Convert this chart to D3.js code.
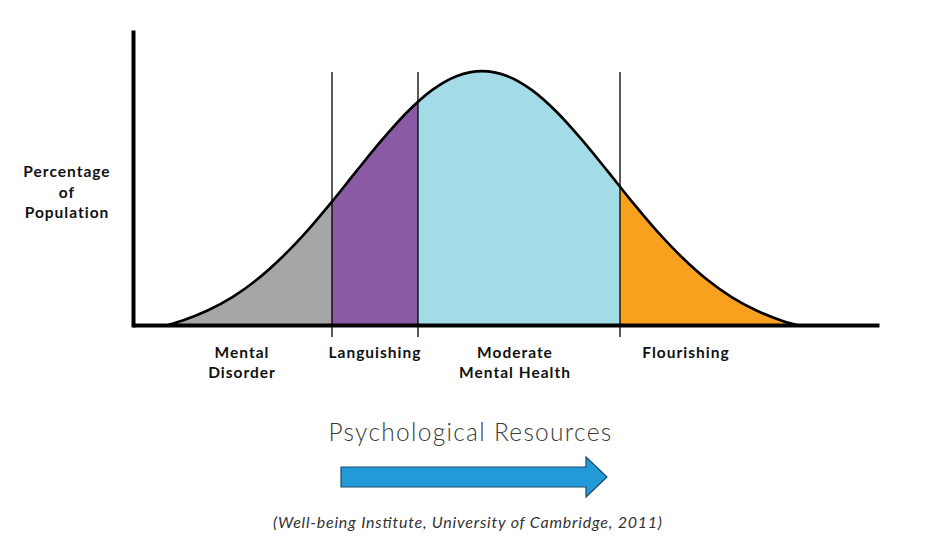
<!DOCTYPE html>
<html><head><meta charset="utf-8">
<script src="https://cdn.jsdelivr.net/npm/d3@7"></script>
<style>body{margin:0;background:#fff}</style>
</head><body>
<svg id="chart" width="952" height="549"></svg>
<script>
// Curve samples (x: resources, y: % of peak)
const curveX = [-6.28,-6,-5.5,-5,-4.5,-4,-3.5,-3,-2.5,-2,-1.5,-1,-0.5,0,0.5,1,1.5,2,2.5,3,3.5,4,4.5,5,5.5,6,6.3];
const curveY = [0,1.7,5.6,10.9,17.9,26.7,37.0,48.6,60.9,72.9,83.8,92.5,98.1,100,98.1,92.5,83.8,72.9,60.9,48.6,37.0,26.7,17.9,10.9,5.6,1.7,0];
const categories = ["Mental Disorder","Languishing","Moderate Mental Health","Flourishing"];
const boundaries = [-6.28,-3.0,-1.28,2.76,6.3];
const cutLines = [-3.0,-1.28,2.76];
const segColors = ["#a6a6a6","#8a5aa4","#a3dce6","#f7a11f"];
const labelLines = [["Mental","Disorder"],["Languishing"],["Moderate","Mental Health"],["Flourishing"]];
const labelCenters = [-4.8,-2.14,0.66,4.08];
const yTitle = ["Percentage","of","Population"];
const xTitle = "Psychological Resources";
const source = "(Well-being Institute, University of Cambridge, 2011)";

const svg = d3.select("#chart");
const x = d3.scaleLinear().domain([-6.98, 7.94]).range([133, 879]);
const y = d3.scaleLinear().domain([0, 115.4]).range([325, 32]);
const pts = curveX.map((v,i)=>({x:v,y:curveY[i]}));

const area = d3.area().x(d=>x(d.x)).y0(y(0)).y1(d=>y(d.y)).curve(d3.curveMonotoneX);
const line = d3.line().x(d=>x(d.x)).y(d=>y(d.y)).curve(d3.curveMonotoneX);

const defs = svg.append("defs");
categories.forEach((c,i)=>{
  defs.append("clipPath").attr("id","seg"+i).append("rect")
    .attr("x", x(boundaries[i])).attr("y", 0)
    .attr("width", x(boundaries[i+1]) - x(boundaries[i])).attr("height", 549);
});
categories.forEach((c,i)=>{
  svg.append("path").datum(pts).attr("d", area)
    .attr("fill", segColors[i]).attr("clip-path", `url(#seg${i})`);
});
svg.append("path").datum(pts).attr("d", line)
  .attr("fill","none").attr("stroke","#000").attr("stroke-width",2.6);

// cut lines
svg.selectAll("line.cut").data(cutLines).enter().append("line")
  .attr("class","cut")
  .attr("x1",d=>x(d)).attr("x2",d=>x(d))
  .attr("y1", y(99.6)).attr("y2", y(0)+12)
  .attr("stroke","#000").attr("stroke-width",1.3);

// axes
const gx = svg.append("g").attr("transform",`translate(0,${y(0)})`)
  .call(d3.axisBottom(x).tickValues([]).tickSizeOuter(0));
gx.select(".domain").attr("stroke","#000").attr("stroke-width",4);
const gy = svg.append("g").attr("transform",`translate(${x.range()[0]},0)`)
  .call(d3.axisLeft(y).tickValues([]).tickSizeOuter(0));
gy.select(".domain").attr("stroke","#000").attr("stroke-width",4).attr("stroke-linecap","square");

// category labels
labelLines.forEach((lines,i)=>{
  const t = svg.append("text").attr("text-anchor","middle")
    .attr("font-family","Lato, 'Open Sans', sans-serif").attr("font-weight","bold")
    .attr("font-size",15.5).attr("letter-spacing",1).attr("fill","#111");
  lines.forEach((l,j)=>{
    t.append("tspan").attr("x", x(labelCenters[i])).attr("y", 357.5 + j*20.5).text(l);
  });
});

// y title
const yt = svg.append("text").attr("text-anchor","middle")
  .attr("font-family","Lato, 'Open Sans', sans-serif").attr("font-weight","bold")
  .attr("font-size",15.5).attr("letter-spacing",1).attr("fill","#111");
yTitle.forEach((l,j)=>yt.append("tspan").attr("x",67).attr("y",177+j*20.7).text(l));

// x title
svg.append("text").attr("x",470.5).attr("y",441).attr("text-anchor","middle")
  .attr("font-family","Lato, 'Open Sans', sans-serif").attr("font-weight",300)
  .attr("font-size",24.5).attr("letter-spacing",1.3).attr("fill","#3a3a3a").text(xTitle);

// arrow
const p = d3.path();
p.moveTo(341,467); p.lineTo(586,467); p.lineTo(586,457); p.lineTo(607,477);
p.lineTo(586,497); p.lineTo(586,487); p.lineTo(341,487); p.closePath();
svg.append("path").attr("d",p.toString()).attr("fill","#229ad8")
  .attr("stroke","#1d4a6a").attr("stroke-width",1.2);

// source
svg.append("text").attr("x",273).attr("y",528)
  .attr("font-family","Lato, 'Open Sans', sans-serif").attr("font-style","italic")
  .attr("font-size",16).attr("textLength",389).attr("lengthAdjust","spacing")
  .attr("fill","#333").text(source);
</script>
</body></html>
